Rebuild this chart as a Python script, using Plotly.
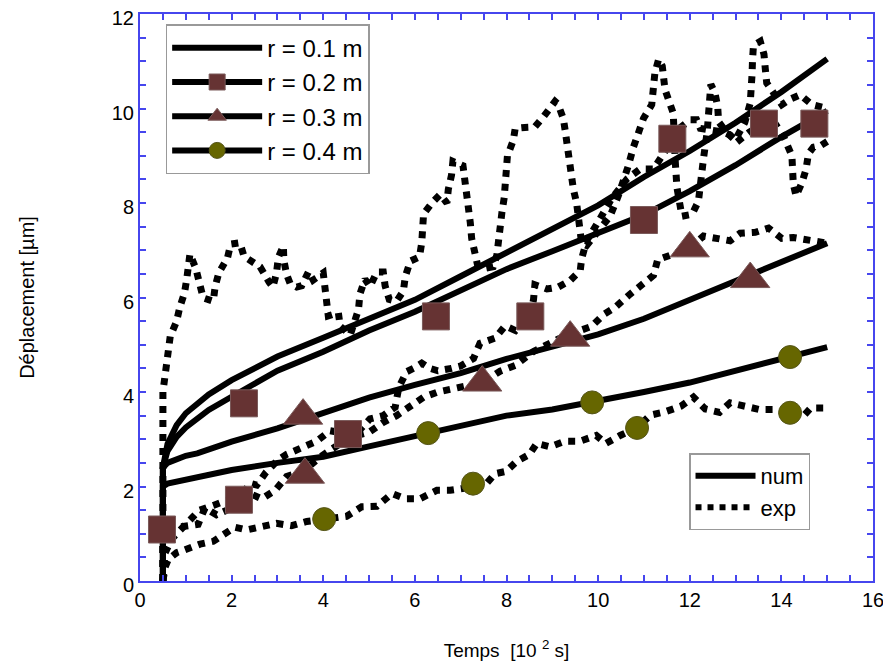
import plotly.graph_objects as go

# ---------------- data ----------------
time_num = [0.5, 0.5, 0.6, 0.8, 1.0, 1.25, 1.5, 2.0, 3.0, 4.0, 5.0, 6.0, 7.0,
            8.0, 9.0, 10.0, 11.0, 12.0, 13.0, 14.0, 15.0]
num_r01 = [0, 2.4, 2.9, 3.3, 3.55, 3.75, 3.95, 4.25, 4.75, 5.15, 5.55, 5.95, 6.45,
           6.95, 7.45, 7.95, 8.55, 9.1, 9.7, 10.35, 11.05]
num_r02 = [0, 2.4, 2.75, 3.05, 3.25, 3.45, 3.62, 3.9, 4.45, 4.85, 5.3, 5.7, 6.15,
           6.6, 6.98, 7.35, 7.75, 8.25, 8.8, 9.4, 9.95]
num_r03 = [0, 2.4, 2.5, 2.58, 2.65, 2.7, 2.78, 2.95, 3.23, 3.55, 3.88, 4.15, 4.4,
           4.7, 4.95, 5.22, 5.55, 5.95, 6.35, 6.75, 7.15]
num_r04 = [0, 2.0, 2.06, 2.1, 2.15, 2.18, 2.22, 2.35, 2.5, 2.63, 2.85, 3.07, 3.3,
           3.5, 3.63, 3.8, 4.0, 4.2, 4.45, 4.7, 4.95]

exp_r01_t = [0.5, 0.5, 0.5, 0.5, 0.5, 0.66, 0.8, 0.87, 0.97, 1.02, 1.09, 1.22, 1.31,
             1.38, 1.6, 1.64, 1.72, 1.91, 1.98, 2.18, 2.27, 2.44, 2.62, 2.82, 2.9,
             2.98, 3.02, 3.13, 3.14, 3.2, 3.28, 3.42, 3.53, 3.68, 3.78, 4.0, 4.04,
             4.06, 4.11, 4.33, 4.37, 4.59, 4.77, 4.8, 4.91, 5.02, 5.17, 5.31, 5.35,
             5.44, 5.6, 5.75, 5.79, 5.9, 6.1, 6.15, 6.16, 6.19, 6.37, 6.55, 6.7,
             6.73, 6.8, 6.83, 7.05, 7.1, 7.12, 7.17, 7.21, 7.24, 7.29, 7.37, 7.55,
             7.71, 7.79, 7.82, 7.88, 7.9, 7.95, 7.97, 8.0, 8.02, 8.15, 8.19, 8.4,
             8.62, 8.81, 9.06, 9.12, 9.24, 9.28, 9.32, 9.39, 9.43, 9.46, 9.53, 9.57,
             9.6, 9.64, 9.75, 10.0, 10.26, 10.44, 10.55, 10.66, 10.77, 10.88, 10.99,
             11.17, 11.21, 11.24, 11.32, 11.4, 11.46, 11.56, 11.64, 11.68, 11.72,
             11.83, 12.05, 12.19, 12.22, 12.24, 12.3, 12.38, 12.41, 12.46, 12.55,
             12.61, 12.63, 12.8, 12.99, 13.2, 13.32, 13.35, 13.36, 13.37, 13.39,
             13.54, 13.62, 13.65, 13.68, 13.83, 14.01, 14.2, 14.41, 14.67, 15.0]
exp_r01_d = [0, 1.0, 2.0, 3.0, 4.0, 5.18, 5.5, 5.8, 6.09, 6.39, 6.92, 6.61, 6.29,
             5.99, 5.92, 6.23, 6.52, 6.84, 7.13, 7.16, 6.87, 6.75, 6.65, 6.32, 6.22,
             6.52, 6.85, 7.09, 6.79, 6.49, 6.29, 6.22, 6.25, 6.55, 6.37, 6.52, 6.22,
             5.89, 5.61, 5.68, 5.39, 5.21, 5.75, 6.07, 6.39, 6.23, 6.54, 6.54, 6.25,
             5.96, 5.92, 6.14, 6.44, 6.77, 6.86, 7.16, 7.45, 7.77, 8.0, 8.18, 8.0,
             8.29, 8.59, 8.88, 8.79, 8.47, 8.2, 7.88, 7.58, 7.25, 6.97, 6.68, 6.62,
             6.65, 6.9, 7.2, 7.5, 7.8, 8.11, 8.43, 8.72, 9.0, 9.33, 9.58, 9.6,
             9.61, 9.83, 10.15, 10.1, 9.79, 9.54, 9.22, 8.9, 8.58, 8.29, 8.0, 7.72,
             7.43, 7.15, 7.1, 7.4, 7.72, 8.15, 8.43, 8.79, 9.18, 9.47, 9.79,
             10.08, 10.4, 10.76, 11.04, 10.9, 10.4, 10.11, 9.9, 8.94, 8.33,
             7.72, 7.76, 8.04, 8.36, 8.65, 8.94, 9.5, 10.11, 10.51, 10.33,
             10.04, 9.72, 9.5, 9.33, 9.7, 10.11, 10.4, 10.72, 11.02, 11.33,
             11.42, 11.15, 10.83, 10.54, 10.33, 10.08, 10.2, 10.29, 10.08, 10.0]

exp_r02_t = [0.5, 0.5, 0.7, 0.94, 1.27, 1.42, 1.67, 1.9, 2.16, 2.4, 2.55, 2.75, 3.0,
             3.2, 3.53, 3.86, 4.15, 4.54, 4.8, 5.02, 5.31, 5.57, 5.65, 5.82, 5.97,
             6.15, 6.33, 6.5, 6.8, 7.0, 7.28, 7.42, 7.75, 7.97, 8.2, 8.52, 8.59,
             8.62, 8.88, 9.13, 9.39, 9.61, 9.64, 9.75, 10.0, 10.3, 10.63, 10.92,
             11.21, 11.39, 11.62, 11.8, 12.01, 12.15, 12.23, 12.5, 12.74, 12.88,
             13.03, 13.3, 13.62, 13.85, 14.05, 14.23, 14.26, 14.32, 14.45, 14.54,
             14.59, 14.7, 14.85, 15.0]
exp_r02_d = [0, 1.09, 1.12, 1.14, 1.2, 1.55, 1.4, 1.5, 1.72, 2.07, 2.03, 2.3, 2.55,
             2.68, 2.82, 2.96, 3.18, 3.11, 3.2, 3.43, 3.5, 3.68, 4.1, 4.43, 4.5,
             4.61, 4.5, 4.45, 4.5, 4.55, 4.71, 5.03, 5.14, 5.4, 5.3, 5.6, 5.96,
             6.27, 6.18, 6.22, 6.36, 6.57, 6.82, 7.2, 7.6, 8.1, 8.51, 8.72,
             8.72, 9.0, 9.36, 9.6, 9.76, 9.76, 9.58, 9.55, 9.5, 9.44,
             9.29, 9.5, 9.68, 9.7, 9.4, 9.0, 8.4, 8.15, 8.43, 8.72,
             9.04, 9.18, 9.21, 9.3]

exp_r03_t = [0.5, 0.55, 0.7, 1.0, 1.3, 1.6, 2.0, 2.4, 2.66, 2.95, 3.2, 3.6, 3.9,
             4.2, 4.6, 5.0, 5.3, 5.6, 5.93, 6.19, 6.5, 6.88, 7.2, 7.47, 7.86,
             8.19, 8.59, 8.99, 9.3, 9.6, 9.86, 10.12, 10.37, 10.66, 10.92, 11.21,
             11.3, 11.6, 12.0, 12.3, 12.58, 12.88, 13.1, 13.43, 13.72, 14.01,
             14.26, 14.52, 14.85, 15.0]
exp_r03_d = [0, 0.6, 0.9, 1.2, 1.5, 1.6, 1.75, 1.85, 1.74, 1.92, 2.21, 2.35, 2.6,
             2.8, 3.05, 3.15, 3.35, 3.5, 3.71, 3.89, 4.0, 4.07, 4.15, 4.2, 4.44,
             4.56, 4.86, 5.07, 5.2, 5.3, 5.39, 5.64, 5.79, 6.04, 6.25, 6.47,
             6.8, 6.9, 7.04, 7.3, 7.25, 7.2, 7.36, 7.38, 7.47, 7.25,
             7.27, 7.22, 7.18, 7.15]

exp_r04_t = [0.5, 0.55, 0.62, 0.8, 0.98, 1.31, 1.6, 1.85, 2.07, 2.33, 2.69, 2.98,
             3.31, 3.64, 4.04, 4.51, 4.84, 5.17, 5.5, 5.79, 6.11, 6.48, 6.77, 7.06,
             7.27, 7.57, 7.75, 7.99, 8.22, 8.5, 8.66, 8.95, 9.28, 9.61, 9.96,
             10.17, 10.48, 10.85, 11.14, 11.46, 11.81, 12.08, 12.34, 12.65, 12.88,
             13.21, 13.52, 13.83, 14.19, 14.45, 14.64, 14.93]
exp_r04_d = [0, 0.3, 0.46, 0.6, 0.66, 0.78, 0.84, 1.0, 1.14, 1.08, 1.14, 1.22,
             1.17, 1.26, 1.31, 1.37, 1.57, 1.58, 1.85, 1.74, 1.74, 1.92, 1.92, 1.96,
             2.06, 2.07, 2.27, 2.32, 2.53, 2.68, 2.91, 2.84, 2.96, 2.96, 3.08,
             2.91, 3.08, 3.24, 3.51, 3.58, 3.7, 3.89, 3.64, 3.57, 3.77,
             3.68, 3.63, 3.63, 3.56, 3.46, 3.66, 3.66]

# marker positions
sq_num_t, sq_num_d = [2.27, 6.46, 11.0, 14.72], [3.76, 5.6, 7.64, 9.68]
sq_exp_t, sq_exp_d = [0.48, 2.16, 4.54, 8.52, 11.62, 13.62], [1.09, 1.72, 3.11, 5.6, 9.36, 9.68]
tri_num_t, tri_num_d = [3.56, 9.39, 13.32], [3.5, 5.15, 6.39]
tri_exp_t, tri_exp_d = [3.6, 7.47, 12.0], [2.25, 4.2, 7.04]
cir_num_t, cir_num_d = [6.29, 9.87, 14.19], [3.13, 3.78, 4.74]
cir_exp_t, cir_exp_d = [4.02, 7.27, 10.85, 14.19], [1.31, 2.06, 3.24, 3.56]

series_names = ["r = 0.1 m", "r = 0.2 m", "r = 0.3 m", "r = 0.4 m"]
style_names = ["num", "exp"]
x_ticks = [0, 2, 4, 6, 8, 10, 12, 14, 16]
y_ticks = [0, 2, 4, 6, 8, 10, 12]

# ---------------- styles ----------------
FONT = "Arial, 'Liberation Sans', Helvetica, sans-serif"
BLUE = "#4646ee"
BROWN = "#663333"
OLIVE = "#666600"
NUM_LINE = dict(color="black", width=6)
EXP_LINE = dict(color="black", width=7, dash="7px,7px")

fig = go.Figure()

for d in [num_r01, num_r02, num_r03, num_r04]:
    fig.add_trace(go.Scatter(x=time_num, y=d, mode="lines", line=NUM_LINE,
                             showlegend=False, hoverinfo="skip"))

for t, d in [(exp_r01_t, exp_r01_d), (exp_r02_t, exp_r02_d),
             (exp_r03_t, exp_r03_d), (exp_r04_t, exp_r04_d)]:
    fig.add_trace(go.Scatter(x=t, y=d, mode="lines", line=EXP_LINE,
                             showlegend=False, hoverinfo="skip"))

sq_marker = dict(symbol="square", size=27, color=BROWN, line=dict(color="#7a5a5a", width=1))
tri_marker = dict(symbol="triangle-up", size=34, color=BROWN, line=dict(color="#7a5a5a", width=1))
cir_marker = dict(symbol="circle", size=23, color=OLIVE, line=dict(color="#55551a", width=1))

for t, d, m in [(sq_num_t, sq_num_d, sq_marker), (sq_exp_t, sq_exp_d, sq_marker),
                (tri_num_t, tri_num_d, tri_marker), (tri_exp_t, tri_exp_d, tri_marker),
                (cir_num_t, cir_num_d, cir_marker), (cir_exp_t, cir_exp_d, cir_marker)]:
    fig.add_trace(go.Scatter(x=t, y=d, mode="markers", marker=m,
                             showlegend=False, hoverinfo="skip"))

# legend-only traces
leg_markers = [None, sq_marker, tri_marker, cir_marker]
for name, m in zip(series_names, leg_markers):
    fig.add_trace(go.Scatter(x=[None], y=[None], name=name,
                             mode="lines" if m is None else "lines+markers",
                             line=dict(color="black", width=6),
                             marker=m, legend="legend"))
fig.add_trace(go.Scatter(x=[None], y=[None], name=style_names[0], mode="lines",
                         line=dict(color="black", width=6), legend="legend2"))
fig.add_trace(go.Scatter(x=[None], y=[None], name=style_names[1], mode="lines",
                         line=dict(color="black", width=6, dash="6px,6px"), legend="legend2"))

axis_common = dict(showline=True, linecolor=BLUE, linewidth=2, mirror="allticks",
                   ticks="inside", tickcolor=BLUE, ticklen=6, tickwidth=1.5,
                   showgrid=False, zeroline=False, ticklabeloverflow="allow",
                   tickfont=dict(family=FONT, size=20, color="black"),
                   minor=dict(ticks="inside", ticklen=6, tickcolor=BLUE, tickwidth=1.5,
                              dtick=0.5, showgrid=False))

fig.update_xaxes(range=[0, 16], tickvals=x_ticks, ticktext=[str(v) for v in x_ticks],
                 title=dict(text="Temps  [10 <sup>2</sup> s]", standoff=34,
                            font=dict(family=FONT, size=19, color="black")),
                 **axis_common)
fig.update_yaxes(range=[0, 12], tickvals=y_ticks, ticktext=[str(v) for v in y_ticks],
                 ticklabelshift=4,
                 title=dict(text="Déplacement [µm]", standoff=72,
                            font=dict(family=FONT, size=20, color="black")),
                 **axis_common)

fig.update_layout(
    width=883, height=663,
    margin=dict(l=132, r=18, t=6, b=90, autoexpand=False),
    paper_bgcolor="white", plot_bgcolor="white",
    font=dict(family=FONT, color="black"),
    legend=dict(x=0.035, y=0.982, xanchor="left", yanchor="top",
                bgcolor="white", bordercolor="#999999", borderwidth=1.5,
                font=dict(family=FONT, size=24), itemwidth=90, tracegroupgap=0),
    legend2=dict(x=0.749, y=0.225, xanchor="left", yanchor="top",
                 bgcolor="white", bordercolor="#999999", borderwidth=1.5,
                 font=dict(family=FONT, size=22), itemwidth=60, tracegroupgap=0),
)

fig.write_html("out.html")
